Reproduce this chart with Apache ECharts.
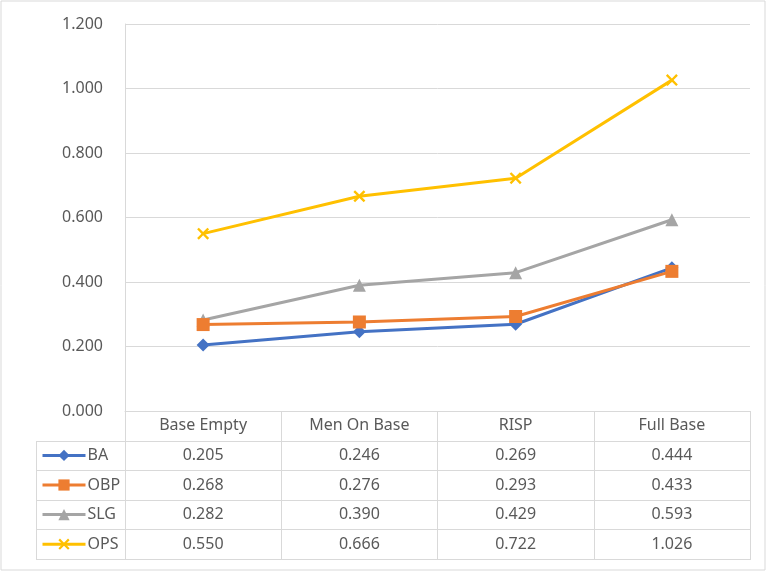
<!DOCTYPE html>
<html><head><meta charset="utf-8">
<script src="https://cdn.jsdelivr.net/npm/echarts@6/dist/echarts.min.js"></script>
<style>html,body{margin:0;padding:0;background:#fff}#c{width:774px;height:572px}</style>
</head><body><div id="c"></div>
<script>
var categories = ['Base Empty', 'Men On Base', 'RISP', 'Full Base'];
var seriesNames = ['BA', 'OBP', 'SLG', 'OPS'];
var BA  = [0.205, 0.246, 0.269, 0.444];
var OBP = [0.268, 0.276, 0.293, 0.433];
var SLG = [0.282, 0.390, 0.429, 0.593];
var OPS = [0.550, 0.666, 0.722, 1.026];
var yTicks = [0, 0.2, 0.4, 0.6, 0.8, 1.0, 1.2];

var allData = [BA, OBP, SLG, OPS];
var colors = ['#4472C4', '#ED7D31', '#A5A5A5', '#FFC000'];
var xSym = 'path://M0,1.4L1.4,0L5,3.6L8.6,0L10,1.4L6.4,5L10,8.6L8.6,10L5,6.4L1.4,10L0,8.6L3.6,5Z';
var symbols = ['diamond', 'rect', 'triangle', xSym];
var symSizes = [13, 13, 13, 12];
var FONT = 'Noto Sans';
var TXT = '#595959';
var GRID = '#D9D9D9';

var G = {left: 125, top: 24, right: 24, height: 387};
var bottomY = G.top + G.height;
var rowH = 29.6;

var chart = echarts.init(document.getElementById('c'));
var graphics = [
  {type: 'rect', shape: {x: 1, y: 1, width: 764, height: 569}, style: {fill: 'none', stroke: GRID, lineWidth: 1}, silent: true}
];
for (var r = 1; r <= 5; r++) {
  var yy = Math.round(bottomY + r * rowH) + 0.5;
  graphics.push({type: 'line', shape: {x1: 36, y1: yy, x2: 750, y2: yy}, style: {stroke: GRID, lineWidth: 1}, silent: true});
}
var lastY = Math.round(bottomY + 5 * rowH) + 0.5;
graphics.push({type: 'line', shape: {x1: 36.5, y1: Math.round(bottomY + rowH) + 0.5, x2: 36.5, y2: lastY}, style: {stroke: GRID, lineWidth: 1}, silent: true});

var series = seriesNames.map(function (n, i) {
  return {
    name: n, type: 'line', data: allData[i],
    symbol: symbols[i], symbolSize: symSizes[i], showAllSymbol: true,
    lineStyle: {color: colors[i], width: 3},
    itemStyle: {color: colors[i]},
    z: i === 1 ? 3 : 2
  };
});

var legends = seriesNames.map(function (n, i) {
  var cy = bottomY + (i + 1.5) * rowH;
  return {
    orient: 'vertical', left: 41, top: cy - 8, padding: 0,
    itemWidth: 43, itemHeight: 14, data: [n],
    lineStyle: {width: 3},
    textStyle: {color: TXT, fontSize: 16, fontFamily: FONT, lineHeight: 16, padding: [0, 0, 0, -3]}
  };
});

chart.setOption({
  animation: false,
  textStyle: {fontFamily: FONT},
  grid: {left: G.left, top: G.top, right: G.right, height: G.height},
  legend: legends,
  xAxis: {
    type: 'category', data: categories, boundaryGap: true,
    axisLine: {lineStyle: {color: GRID, width: 1}},
    axisTick: {show: true, alignWithLabel: false, length: 5 * rowH + 1, lineStyle: {color: GRID}},
    axisLabel: {
      margin: 0, interval: 0,
      formatter: function (v, idx) {
        var lines = [v];
        allData.forEach(function (d) { lines.push(d[idx].toFixed(3)); });
        return lines.join('\n');
      },
      color: TXT, fontSize: 16, fontFamily: FONT, lineHeight: rowH
    }
  },
  yAxis: {
    type: 'value', min: 0, max: 1.2, interval: 0.2,
    axisLine: {show: true, lineStyle: {color: GRID}},
    axisTick: {show: false},
    splitLine: {lineStyle: {color: GRID, width: 1}},
    axisLabel: {margin: 22, color: TXT, fontSize: 16, fontFamily: FONT,
      formatter: function (v) { return v.toFixed(3); }}
  },
  graphic: graphics,
  series: series
});
</script></body></html>
